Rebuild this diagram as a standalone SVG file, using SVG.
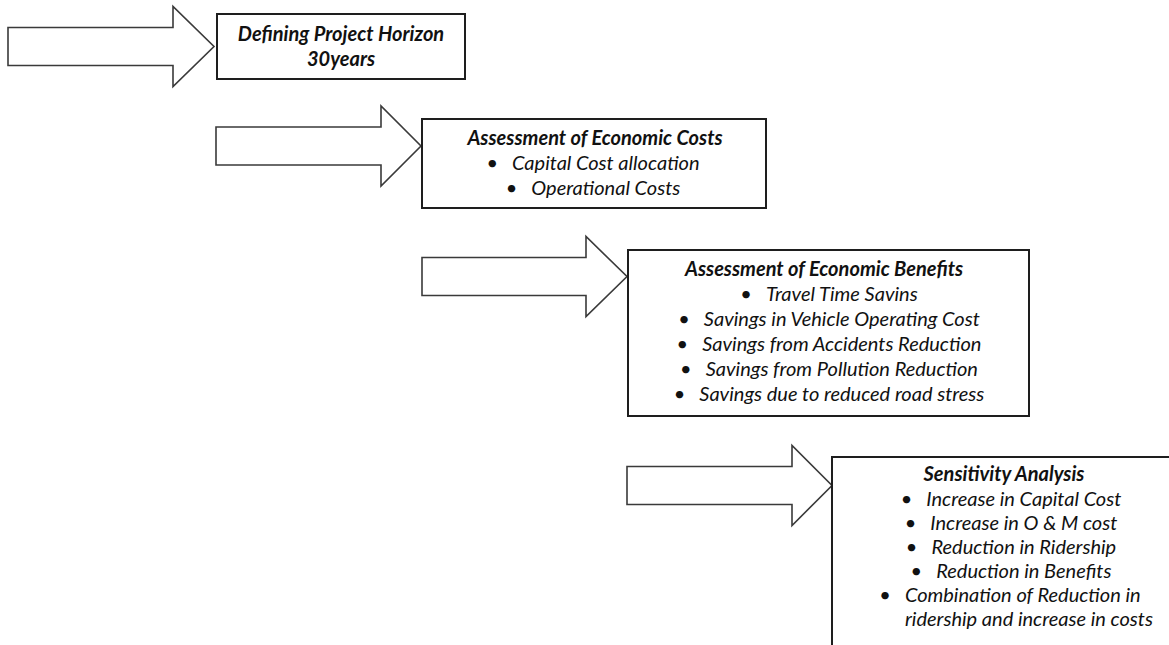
<svg xmlns="http://www.w3.org/2000/svg" width="1169" height="645" viewBox="0 0 1169 645">
<style>
.arrow{fill:#ffffff;stroke:#3a3a3a;stroke-width:1.6;stroke-linejoin:miter}
.box{fill:#ffffff;stroke:#1e1e1e;stroke-width:2}
text{font-family:Lato,"Noto Sans","Liberation Sans",sans-serif;font-size:20px;fill:#111;font-style:italic}
.t{font-weight:bold;text-anchor:middle}
.b{text-anchor:middle}
</style>
<rect width="1169" height="645" fill="#ffffff"/>
<g id="connectors">
<polygon class="arrow" points="8,27.5 173,27.5 173,6.5 214,46.5 173,86.5 173,65.5 8,65.5"/>
<polygon class="arrow" points="216,127 381,127 381,106 421,146 381,186 381,165 216,165"/>
<polygon class="arrow" points="422,257.5 586,257.5 586,236.5 627,276.5 586,316.5 586,295.5 422,295.5"/>
<polygon class="arrow" points="627,466.5 792,466.5 792,445.5 832,485.5 792,525.5 792,504.5 627,504.5"/>
</g>
<g id="node-horizon">
<rect class="box" x="217" y="14" width="248" height="65"/>
<text class="t" x="341" y="41">Defining Project Horizon</text>
<text class="t" x="341" y="66">30years</text>
</g>
<g id="node-costs">
<rect class="box" x="422" y="119" width="344" height="89"/>
<text class="t" x="595" y="145">Assessment of Economic Costs</text>
<text class="b" x="593" y="170">•<tspan dx="14">Capital Cost allocation</tspan></text>
<text class="b" x="593" y="195">•<tspan dx="14">Operational Costs</tspan></text>
</g>
<g id="node-benefits">
<rect class="box" x="628" y="250" width="401" height="166"/>
<text class="t" x="824" y="276">Assessment of Economic Benefits</text>
<text class="b" x="829" y="301">•<tspan dx="14">Travel Time Savins</tspan></text>
<text class="b" x="829" y="326">•<tspan dx="14">Savings in Vehicle Operating Cost</tspan></text>
<text class="b" x="829" y="351">•<tspan dx="14">Savings from Accidents Reduction</tspan></text>
<text class="b" x="829" y="376">•<tspan dx="14">Savings from Pollution Reduction</tspan></text>
<text class="b" x="829" y="401">•<tspan dx="14">Savings due to reduced road stress</tspan></text>
</g>
<g id="node-sensitivity">
<rect class="box" x="832" y="457" width="400" height="240"/>
<text class="t" x="1004" y="481">Sensitivity Analysis</text>
<text class="b" x="1011" y="506">•<tspan dx="14">Increase in Capital Cost</tspan></text>
<text class="b" x="1011" y="530">•<tspan dx="14">Increase in O &amp; M cost</tspan></text>
<text class="b" x="1011" y="554">•<tspan dx="14">Reduction in Ridership</tspan></text>
<text class="b" x="1011" y="578">•<tspan dx="14">Reduction in Benefits</tspan></text>
<text class="b" x="1010" y="602">•<tspan dx="14">Combination of Reduction in</tspan></text>
<text class="b" x="1029" y="626">ridership and increase in costs</text>
</g>
</svg>
